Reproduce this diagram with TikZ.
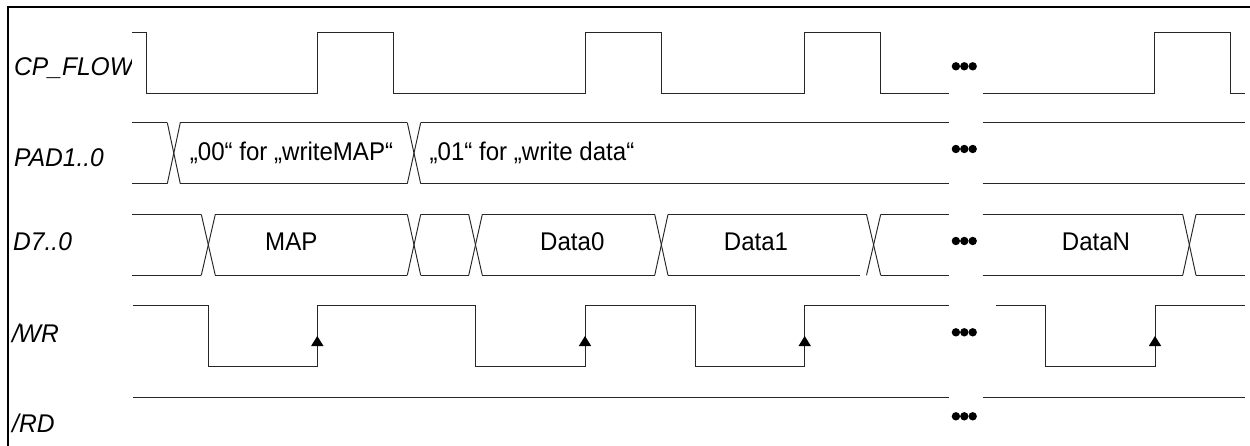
\documentclass[tikz,border=0pt]{standalone}
\usepackage{fontspec}
\setmainfont[FakeStretch=0.94]{Liberation Sans}
\newfontfamily\sigfont[FakeStretch=0.96]{Liberation Sans}
\tikzset{
  wave/.style={draw=black!85,line width=0.95pt,line join=miter},
  frameline/.style={draw=black,line width=1.7pt,line cap=butt},
  siglabel/.style={anchor=base west,inner sep=0pt,font=\fontsize{25.6}{28}\sigfont\itshape},
  datalabel/.style={anchor=base,inner sep=0pt,font=\fontsize{25.6}{28}\selectfont},
  dotmark/.style={fill=black,draw=none},
  edgetip/.style={fill=black,draw=none}
}
\newcommand{\crossing}[4]{% x1,x2,ytop,ybot
  \draw[wave] (#1,#3) -- (#2,#4);
  \draw[wave] (#1,#4) -- (#2,#3);
}
\newcommand{\dotstrip}[1]{%
  \fill[dotmark] (955.9,#1) circle (4.2);
  \fill[dotmark] (964.3,#1) circle (4.2);
  \fill[dotmark] (972.7,#1) circle (4.2);
}
\newcommand{\tipup}[1]{%
  \fill[edgetip] (#1,336) -- (#1+6.2,346) -- (#1-6.2,346) -- cycle;
}
\begin{document}
\begin{tikzpicture}[x=1pt,y=-1pt]
\useasboundingbox (0,0) rectangle (1250,446);
\fill[white] (0,0) rectangle (1250,446);
% frame
\draw[frameline] (1250,6.8) -- (7.8,6.8) -- (7.8,446);
% labels
\begin{scope}
  \clip (0,40) rectangle (131,100);
  \node[siglabel] (lcp) at (14,76) {CP\_FLOW};
\end{scope}
\node[siglabel] (lpad) at (14,166.7) {PAD1..0};
\node[siglabel] (ld) at (13,250.7) {D7..0};
\node[siglabel] (lwr) at (12,342) {/\kern-1.2pt WR};
\node[siglabel] (lrd) at (12,432) {/RD};
% CP_FLOW
\draw[wave] (132,32.3) -- (146.5,32.3) -- (146.5,93) -- (317.5,93) -- (317.5,32.3) -- (393,32.3) -- (393,93)
  -- (585,93) -- (585,32.3) -- (661,32.3) -- (661,93) -- (804.7,93) -- (804.7,32.3) -- (880.7,32.3) -- (880.7,93) -- (949.3,93);
\draw[wave] (982.7,93) -- (1154.7,93) -- (1154.7,32.3) -- (1230.7,32.3) -- (1230.7,93) -- (1245,93);
% PAD
\draw[wave] (132,122.6) -- (167.3,122.6);
\draw[wave] (132,183.7) -- (167.3,183.7);
\crossing{167.3}{180.3}{122.6}{183.7}
\draw[wave] (180.3,122.6) -- (407.3,122.6);
\draw[wave] (180.3,183.7) -- (407.3,183.7);
\crossing{407.3}{420.7}{122.6}{183.7}
\draw[wave] (420.7,122.6) -- (949.3,122.6);
\draw[wave] (420.7,183.7) -- (949.3,183.7);
\draw[wave] (982.7,122.6) -- (1244.5,122.6);
\draw[wave] (982.7,183.7) -- (1244.5,183.7);
% D
\draw[wave] (132,214.4) -- (201.3,214.4);
\draw[wave] (132,275.3) -- (201.3,275.3);
\crossing{201.3}{215.3}{214.4}{275.3}
\draw[wave] (215.3,214.4) -- (407.3,214.4);
\draw[wave] (215.3,275.3) -- (407.3,275.3);
\crossing{407.3}{420.7}{214.4}{275.3}
\draw[wave] (420.7,214.4) -- (468.7,214.4);
\draw[wave] (420.7,275.3) -- (468.7,275.3);
\crossing{468.7}{482.3}{214.4}{275.3}
\draw[wave] (482.3,214.4) -- (654.7,214.4);
\draw[wave] (482.3,275.3) -- (654.7,275.3);
\crossing{654.7}{668}{214.4}{275.3}
\draw[wave] (668,214.4) -- (866.5,214.4);
\draw[wave] (668,275.3) -- (860,275.3);
\crossing{866.5}{880.7}{214.4}{275.3}
\draw[wave] (880.7,214.4) -- (949.3,214.4);
\draw[wave] (880.7,275.3) -- (949.3,275.3);
\draw[wave] (982.7,214.4) -- (1182.7,214.4);
\draw[wave] (982.7,275.3) -- (1182.7,275.3);
\crossing{1182.7}{1196}{214.4}{275.3}
\draw[wave] (1196,214.4) -- (1244.5,214.4);
\draw[wave] (1196,275.3) -- (1244.5,275.3);
% /WR
\draw[wave] (133,305.3) -- (208,305.3) -- (208,366) -- (317.3,366) -- (317.3,305.3) -- (475.7,305.3) -- (475.7,366)
  -- (585,366) -- (585,305.3) -- (695.7,305.3) -- (695.7,366) -- (804.7,366) -- (804.7,305.3) -- (949.3,305.3);
\draw[wave] (996,305.3) -- (1045,305.3) -- (1045,366) -- (1155,366) -- (1155,305.3) -- (1244.5,305.3);
\tipup{317.3}
\tipup{585}
\tipup{804.7}
\tipup{1155}
% /RD
\draw[wave] (133,397) -- (949.3,397);
\draw[wave] (982.7,397) -- (1244.5,397);
% dots
\dotstrip{66.3}
\dotstrip{149}
\dotstrip{241}
\dotstrip{332.3}
\dotstrip{416.3}
% data labels
\node[datalabel] (t00) at (291.5,161) {„00“ for „writeMAP“};
\node[datalabel] (t01) at (532,161) {„01“ for „write data“};
\node[datalabel] (tmap) at (291.3,251) {MAP};
\node[datalabel] (td0) at (572.3,251) {Data0};
\node[datalabel] (td1) at (756,251) {Data1};
\node[datalabel] (tdn) at (1096,251) {DataN};
\end{tikzpicture}
\end{document}
